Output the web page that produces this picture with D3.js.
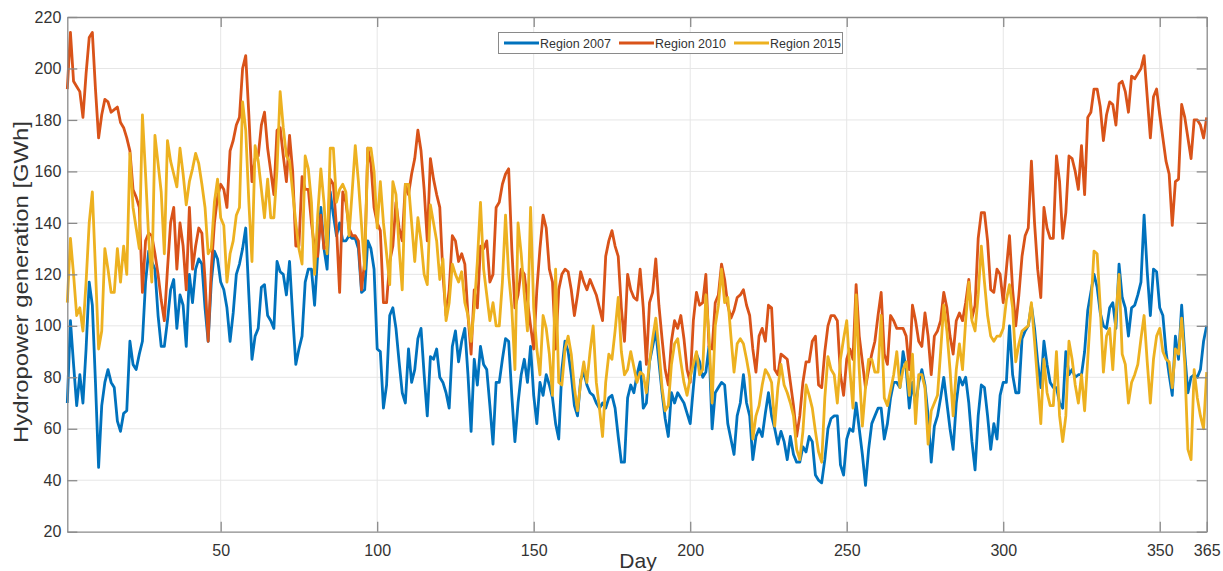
<!DOCTYPE html>
<html>
<head>
<meta charset="utf-8">
<script src="https://cdn.jsdelivr.net/npm/d3@7"></script>
<style>
html,body{margin:0;padding:0;background:#fff;}
svg{display:block;font-family:"Liberation Sans",Arial,Helvetica,sans-serif;}
</style>
</head>
<body>
<svg id="chart" width="1223" height="571"></svg>
<script>
const seriesNames = ["Region 2007", "Region 2010", "Region 2015"];
const seriesColors = ["#0072BD", "#D95319", "#EDB120"];
const xTickValues = [50, 100, 150, 200, 250, 300, 350, 365];
const yTickValues = [20, 40, 60, 80, 100, 120, 140, 160, 180, 200, 220];

const region2007 = [
70,102,85,69,81,70,91,117,108,78,
45,69,78,83,78,76,63,59,66,67,
94,85,83,89,94,117,129,125,122,104,
92,92,102,114,118,99,112,108,92,120,
109,122,126,124,107,94,117,129,126,117,
114,107,94,105,120,124,130,138,112,87,
96,99,115,116,104,102,99,125,121,120,
112,125,104,85,91,96,117,122,122,108,
128,146,130,122,152,143,135,140,133,133,
135,134,134,130,113,114,133,130,122,91,
90,68,77,104,107,99,86,74,70,91,
78,83,95,99,81,65,88,87,91,80,
78,74,68,92,98,86,94,99,81,59,
87,77,92,85,83,69,54,78,78,87,
95,94,73,55,70,81,87,78,92,73,
62,78,73,81,77,72,62,56,83,94,
90,81,69,65,79,82,77,74,73,70,
68,70,68,72,73,68,57,47,47,72,
77,74,81,86,68,70,86,92,98,86,
74,64,57,74,70,74,72,70,66,62,
76,89,86,80,82,92,60,74,76,78,
77,62,56,50,65,70,81,70,65,48,
57,60,57,66,74,65,60,54,59,55,
48,57,50,47,47,53,51,57,55,42,
40,39,48,60,64,65,65,46,42,56,
60,59,70,60,50,38,52,62,65,68,
68,56,62,72,78,78,76,90,83,68,
78,69,78,83,77,65,47,61,65,72,
80,70,60,52,70,80,77,80,70,55,
44,65,77,76,65,52,62,56,73,78,
78,100,81,74,74,95,98,100,108,99,
86,76,94,85,78,76,76,70,68,90,
81,83,80,81,81,90,106,113,120,115,
105,100,99,107,109,99,124,111,107,96,
107,108,112,117,143,121,104,122,121,107,
104,90,81,73,96,87,108,89,74,80,
81,80,83,94,100
];

const region2010 = [
192,214,195,193,191,181,198,212,214,192,
173,182,188,187,183,184,185,179,177,173,
168,153,150,146,113,133,136,135,128,120,
110,102,122,140,146,122,140,131,114,146,
122,131,138,136,118,94,122,140,150,155,
153,146,168,172,178,181,200,205,182,156,
165,166,178,183,169,160,151,176,177,166,
156,174,160,131,131,158,153,153,140,130,
127,143,130,131,157,155,138,113,152,148,
138,135,135,133,114,125,169,163,146,140,
137,109,109,125,131,148,138,133,155,151,
159,165,176,168,153,133,165,157,151,146,
120,104,114,135,133,125,128,124,104,89,
114,107,131,130,133,117,120,146,148,155,
159,161,130,107,112,122,120,110,100,91,
114,130,143,138,122,117,91,114,120,122,
121,114,104,112,121,117,114,118,115,112,
107,102,127,133,137,131,127,107,94,120,
114,111,110,122,107,85,109,113,126,108,
95,83,77,94,102,99,104,95,83,78,
102,113,108,109,120,92,91,109,112,124,
118,108,103,106,111,112,114,108,104,91,
82,96,99,94,108,107,83,81,89,88,
87,78,69,57,65,78,86,86,94,96,
77,76,90,100,104,104,102,81,73,87,
91,87,116,96,86,76,83,89,94,104,
113,89,85,104,102,99,99,99,96,83,
108,102,94,92,105,96,81,96,98,102,
113,107,96,89,102,105,102,109,118,103,
108,134,144,144,133,114,113,122,120,109,
122,135,114,100,112,127,135,138,164,140,
122,111,146,138,134,134,166,156,134,144,
166,165,160,153,170,151,181,183,192,192,
185,172,182,187,186,178,194,195,191,183,
197,196,198,200,205,189,173,189,192,182,
173,164,159,139,156,157,186,181,173,165,
180,180,178,173,181
];

const region2015 = [
109,134,120,104,107,98,117,140,152,122,
91,98,130,122,113,113,130,117,131,120,
167,146,138,130,182,159,134,117,174,163,
152,128,172,164,159,154,169,159,147,156,
161,167,163,155,146,128,130,148,157,142,
139,117,128,133,143,146,187,176,148,125,
170,164,153,142,157,142,142,161,191,177,
166,164,152,140,130,124,166,161,148,120,
143,161,148,128,169,169,148,153,155,152,
135,152,170,156,139,122,169,169,160,138,
156,140,128,116,156,151,130,114,155,155,
140,125,142,133,120,116,147,140,133,118,
126,102,109,124,120,117,121,109,104,94,
107,125,148,122,112,102,109,100,100,117,
143,120,107,83,140,128,112,98,146,107,
91,81,104,99,89,73,122,78,77,91,
96,89,76,67,78,86,78,90,100,78,
68,57,78,89,87,98,111,90,81,83,
90,84,78,82,81,74,86,95,103,91,
76,67,69,85,93,95,86,78,73,80,
85,90,81,83,112,96,70,100,108,122,
109,111,96,82,93,95,93,87,80,56,
65,69,77,83,81,78,61,76,85,77,
74,70,65,52,48,59,77,73,68,59,
51,47,72,88,83,81,70,87,95,102,
83,68,112,83,61,76,87,87,82,82,
104,72,69,75,81,90,76,83,86,73,
89,62,81,81,76,54,67,70,73,90,
108,98,83,65,83,93,83,102,117,102,
98,112,131,117,104,96,94,96,96,99,
110,116,107,86,93,98,99,100,109,94,
78,62,87,74,69,69,90,65,55,65,
94,87,77,70,81,67,87,107,129,128,
107,82,96,99,83,104,120,89,85,70,
78,81,85,95,104,86,70,87,96,99,
90,87,86,76,91,89,103,85,52,48,
83,72,65,60,82
];

const allSeries = [region2007, region2010, region2015];

const svg = d3.select("#chart");
const pLeft = 67.3, pRight = 1206.7, pTop = 17, pBottom = 531.7;

const x = d3.scaleLinear().domain([1, 365]).range([pLeft, pRight]);
const y = d3.scaleLinear().domain([20, 220]).range([pBottom, pTop]);

const axisColor = "#8a8a8a";
const textColor = "#333333";
const gridColor = "#e6e6e6";

// grid
const grid = svg.append("g");
grid.selectAll("line.gx").data(xTickValues.filter(v => v < 365)).enter().append("line")
  .attr("x1", d => x(d)).attr("x2", d => x(d)).attr("y1", pTop).attr("y2", pBottom)
  .attr("stroke", gridColor).attr("stroke-width", 1);
grid.selectAll("line.gy").data(yTickValues.filter(v => v > 20 && v < 220)).enter().append("line")
  .attr("x1", pLeft).attr("x2", pRight).attr("y1", d => y(d)).attr("y2", d => y(d))
  .attr("stroke", gridColor).attr("stroke-width", 1);

// lines
const line = d3.line().x((d, i) => x(i + 1)).y(d => y(d));
allSeries.forEach((s, k) => {
  svg.append("path").datum(s).attr("d", line)
    .attr("fill", "none").attr("stroke", seriesColors[k])
    .attr("stroke-width", 2.8).attr("stroke-linejoin", "round");
});

// axes (ticks inside, box)
const tickLen = 10;
const xb = d3.axisBottom(x).tickValues(xTickValues).tickSizeInner(-tickLen).tickSizeOuter(0).tickPadding(13);
const yl = d3.axisLeft(y).tickValues(yTickValues).tickSizeInner(-tickLen).tickSizeOuter(0).tickPadding(6);
const xt = d3.axisTop(x).tickValues(xTickValues).tickSizeInner(-tickLen).tickSizeOuter(0).tickFormat("");
const yr = d3.axisRight(y).tickValues(yTickValues).tickSizeInner(-tickLen).tickSizeOuter(0).tickFormat("");

function styleAxis(g) {
  g.select(".domain").attr("stroke", axisColor).attr("stroke-width", 1.3);
  g.selectAll(".tick line").attr("stroke", axisColor).attr("stroke-width", 1.3);
  g.selectAll(".tick text").attr("fill", textColor).style("font-size", "16px")
    .style("font-family", "'Liberation Sans', Arial, sans-serif");
}
svg.append("g").attr("transform", `translate(0,${pBottom})`).call(xb).call(styleAxis);
svg.append("g").attr("transform", `translate(${pLeft},0)`).call(yl).call(styleAxis);
svg.append("g").attr("transform", `translate(0,${pTop})`).call(xt).call(styleAxis);
svg.append("g").attr("transform", `translate(${pRight},0)`).call(yr).call(styleAxis);

// axis labels
svg.append("text").attr("x", 638).attr("y", 568)
  .attr("text-anchor", "middle").attr("fill", textColor)
  .style("font-size", "21px").text("Day");
svg.append("text").attr("transform", `translate(28,282) rotate(-90)`)
  .attr("text-anchor", "middle").attr("fill", textColor)
  .attr("textLength", 322).attr("lengthAdjust", "spacingAndGlyphs")
  .style("font-size", "20px").text("Hydropower generation [GWh]");

// legend
const lg = svg.append("g");
lg.append("rect").attr("x", 498.5).attr("y", 32.5).attr("width", 344).attr("height", 21)
  .attr("fill", "#fff").attr("stroke", "#8a8a8a").attr("stroke-width", 1);
const legendX = [504, 619, 734];
seriesNames.forEach((n, k) => {
  lg.append("line").attr("x1", legendX[k]).attr("x2", legendX[k] + 35)
    .attr("y1", 43).attr("y2", 43).attr("stroke", seriesColors[k]).attr("stroke-width", 2.8);
  lg.append("text").attr("x", legendX[k] + 36).attr("y", 47.5)
    .attr("fill", textColor).style("font-size", "12.5px").text(n);
});
</script>
</body>
</html>
